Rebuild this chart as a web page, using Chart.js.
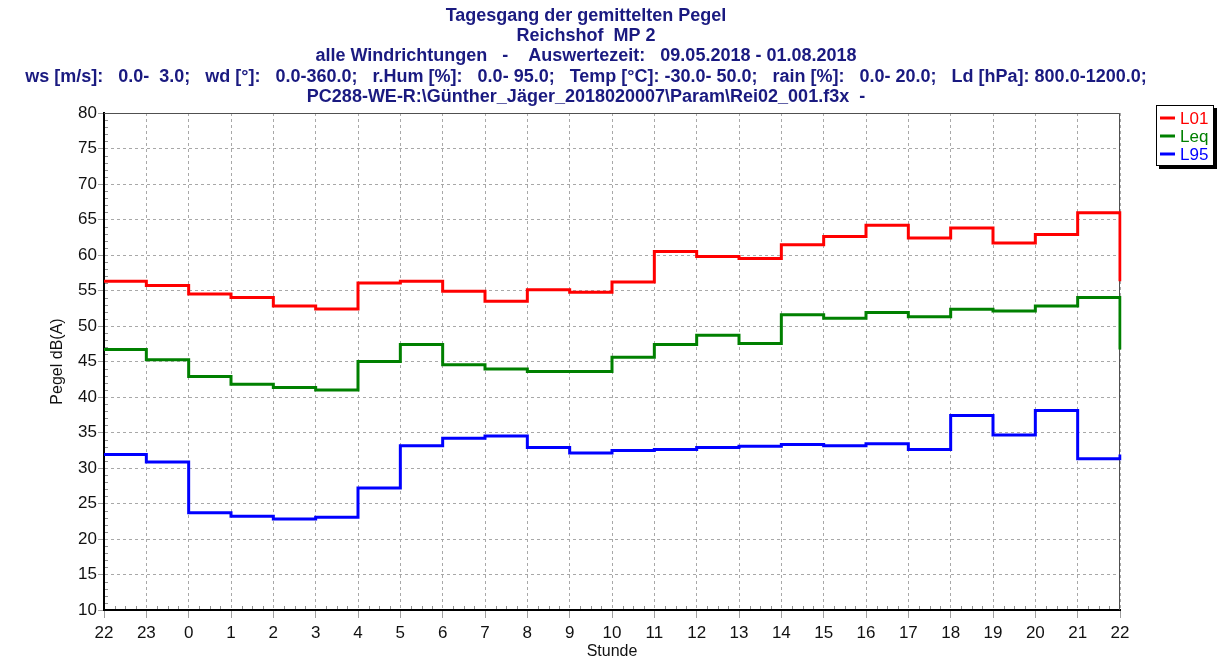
<!DOCTYPE html>
<html>
<head>
<meta charset="utf-8">
<script src="https://cdn.jsdelivr.net/npm/chart.js@4/dist/chart.umd.min.js"></script>
<style>
  html, body { margin: 0; padding: 0; background: #fff; }
</style>
</head>
<body>
<canvas id="pegel" width="1222" height="661"></canvas>
<script>
// Stunden 22 .. 22 (Tagesgang), letzter Punkt schliesst den Kreis
const hours = ['22', '23', '0', '1', '2', '3', '4', '5', '6', '7', '8', '9', '10',
  '11', '12', '13', '14', '15', '16', '17', '18', '19', '20', '21', '22'];

const l01 = [56.3, 55.7, 54.5, 54.0, 52.8, 52.4, 56.05, 56.3, 54.9, 53.5, 55.1, 54.75,
  56.2, 60.5, 59.8, 59.5, 61.45, 62.6, 64.2, 62.4, 63.8, 61.7, 62.9, 65.95, 56.3];
const leq = [46.7, 45.25, 42.9, 41.8, 41.35, 41.0, 45.0, 47.4, 44.55, 43.95, 43.6, 43.6,
  45.6, 47.4, 48.7, 47.55, 51.6, 51.1, 51.9, 51.3, 52.35, 52.1, 52.8, 54.0, 46.7];
const l95 = [31.9, 30.85, 23.7, 23.2, 22.8, 23.05, 27.2, 33.15, 34.2, 34.5, 32.9, 32.1,
  32.45, 32.6, 32.9, 33.05, 33.3, 33.15, 33.4, 32.6, 37.4, 34.65, 38.1, 31.3, 31.9];

const seriesNames = ['L01', 'Leq', 'L95'];
const seriesColors = ['#ff0000', '#008000', '#0000ff'];

const titleLines = [
  'Tagesgang der gemittelten Pegel',
  'Reichshof  MP 2',
  'alle Windrichtungen   -    Auswertezeit:   09.05.2018 - 01.08.2018',
  'ws [m/s]:   0.0-  3.0;   wd [°]:   0.0-360.0;   r.Hum [%]:   0.0- 95.0;   Temp [°C]: -30.0- 50.0;   rain [%]:   0.0- 20.0;   Ld [hPa]: 800.0-1200.0;',
  'PC288-WE-R:\\Günther_Jäger_2018020007\\Param\\Rei02_001.f3x  -'
];

const FONT = '"Liberation Sans", Arial, sans-serif';

// Rahmen und kleine Zwischenstriche an den Achsen
const framePlugin = {
  id: 'frame',
  beforeDatasetsDraw(chart) {
    const ctx = chart.ctx, a = chart.chartArea;
    const x = chart.scales.x, y = chart.scales.y;
    ctx.save();
    ctx.strokeStyle = '#505050';
    ctx.lineWidth = 1;
    ctx.beginPath();
    ctx.moveTo(a.left, a.top + 0.5);
    ctx.lineTo(a.right - 0.5, a.top + 0.5);
    ctx.lineTo(a.right - 0.5, a.bottom);
    ctx.stroke();

    ctx.strokeStyle = '#909090';
    ctx.beginPath();
    for (let i = 0; i < hours.length - 1; i++) {
      const p0 = x.getPixelForValue(i), p1 = x.getPixelForValue(i + 1);
      for (let k = 1; k < 4; k++) {
        const px = Math.round(p0 + (p1 - p0) * k / 4) + 0.5;
        ctx.moveTo(px, a.bottom - 1);
        ctx.lineTo(px, a.bottom - 4);
      }
    }
    for (let v = 11; v < 80; v++) {
      if (v % 5 === 0) continue;
      const py = Math.round(y.getPixelForValue(v)) + 0.5;
      ctx.moveTo(a.left + 1, py);
      ctx.lineTo(a.left + 4, py);
    }
    ctx.stroke();
    ctx.restore();
  },
  afterDraw(chart) {
    const ctx = chart.ctx;
    ctx.save();
    // Titel
    ctx.fillStyle = '#1a1a80';
    ctx.font = 'bold 18px ' + FONT;
    ctx.textAlign = 'center';
    ctx.textBaseline = 'middle';
    const ys = [16, 36, 56, 77, 97];
    titleLines.forEach((t, i) => ctx.fillText(t, 586, ys[i], 1165));

    // Legende
    const bx = 1156, by = 105, bw = 58, bh = 61;
    ctx.fillStyle = '#000';
    ctx.fillRect(bx + 3, by + 3, bw, bh);
    ctx.fillStyle = '#fff';
    ctx.fillRect(bx, by, bw, bh);
    ctx.strokeStyle = '#000';
    ctx.lineWidth = 1;
    ctx.strokeRect(bx + 0.5, by + 0.5, bw - 1, bh - 1);
    ctx.font = '17px ' + FONT;
    ctx.textAlign = 'left';
    seriesNames.forEach((n, i) => {
      const ly = by + 13 + i * 18;
      ctx.strokeStyle = seriesColors[i];
      ctx.lineWidth = 3;
      ctx.beginPath();
      ctx.moveTo(bx + 4, ly);
      ctx.lineTo(bx + 19, ly);
      ctx.stroke();
      ctx.fillStyle = seriesColors[i];
      ctx.fillText(n, bx + 24, ly + 1);
    });
    ctx.restore();
  }
};

function makeSet(label, values, color) {
  return {
    label: label,
    data: values,
    borderColor: color,
    backgroundColor: color,
    borderWidth: 3,
    stepped: 'before',
    pointRadius: 0,
    fill: false
  };
}

var ctx = document.getElementById('pegel').getContext('2d');
var chart = new Chart(ctx, {
  type: 'line',
  data: {
    labels: hours,
    datasets: [
      makeSet(seriesNames[0], l01, seriesColors[0]),
      makeSet(seriesNames[1], leq, seriesColors[1]),
      makeSet(seriesNames[2], l95, seriesColors[2])
    ]
  },
  options: {
    responsive: false,
    animation: false,
    layout: { padding: { top: 113, right: 102, left: 0, bottom: 0 } },
    plugins: {
      legend: { display: false },
      title: { display: false },
      tooltip: { enabled: false }
    },
    scales: {
      x: {
        offset: false,
        grid: { color: '#a8a8a8', lineWidth: 1, tickLength: 8, tickColor: '#a0a0a0' },
        border: { display: true, color: '#000', width: 2, dash: [3, 3] },
        ticks: { autoSkip: false, maxRotation: 0, padding: 5, color: '#111', font: { family: FONT, size: 17 } },
        title: { display: true, text: 'Stunde', color: '#111', padding: { top: 0, bottom: 0 }, font: { family: FONT, size: 16 } },
        afterFit(s) { s.height = 51; }
      },
      y: {
        min: 10,
        max: 80,
        grid: { color: '#a8a8a8', lineWidth: 1, tickLength: 6, tickColor: '#a0a0a0' },
        border: { display: true, color: '#000', width: 2, dash: [3, 3] },
        ticks: { stepSize: 5, padding: 1, color: '#111', font: { family: FONT, size: 17 } },
        title: { display: true, text: 'Pegel dB(A)', color: '#111', padding: { top: 48, bottom: 0 }, font: { family: FONT, size: 16 } },
        afterFit(s) { s.width = 104; }
      }
    }
  },
  plugins: [framePlugin]
});
</script>
</body>
</html>
